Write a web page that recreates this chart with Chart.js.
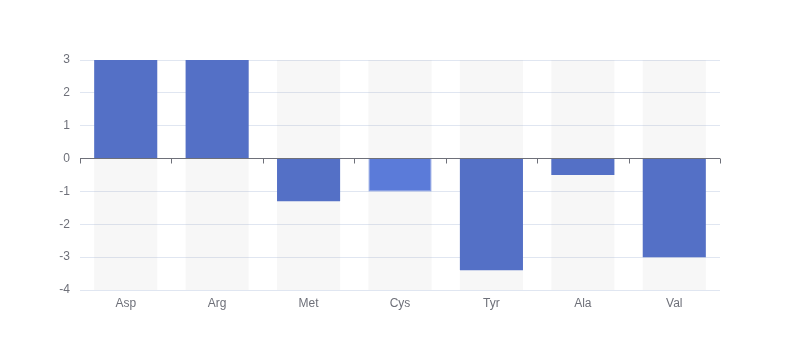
<!DOCTYPE html>
<html>
<head>
<meta charset="utf-8">
<script src="https://cdn.jsdelivr.net/npm/chart.js@4"></script>
<style>
  html, body { margin: 0; padding: 0; background: #fff; }
  #wrap { width: 800px; height: 360px; }
</style>
</head>
<body>
<div id="wrap"><canvas id="c" width="800" height="360"></canvas></div>
<script>
// data
const categories = ['Asp', 'Arg', 'Met', 'Cys', 'Tyr', 'Ala', 'Val'];
const values = [3, 3, -1.3, -1, -3.4, -0.5, -3];
const yMin = -4;
const yMax = 3;
const yStep = 1;
const highlightIndex = 3; // Cys is shown in hover state

const axisGray = '#6e7079';
const gridColor = '#e0e6f1';

// zero line with ticks between categories
const zeroAxis = {
  id: 'zeroAxis',
  afterDatasetsDraw(chart) {
    const { ctx, chartArea, scales } = chart;
    const x = scales.x, y = scales.y;
    const y0 = Math.round(y.getPixelForValue(0)) - 0.5;
    ctx.save();
    ctx.strokeStyle = axisGray;
    ctx.lineWidth = 1;
    ctx.beginPath();
    ctx.moveTo(chartArea.left, y0);
    ctx.lineTo(chartArea.right, y0);
    const edges = [chartArea.left];
    for (let i = 0; i < categories.length - 1; i++) {
      edges.push((x.getPixelForValue(i) + x.getPixelForValue(i + 1)) / 2);
    }
    edges.push(chartArea.right);
    edges.forEach(px => {
      const xx = Math.round(px) + 0.5;
      ctx.moveTo(xx, y0);
      ctx.lineTo(xx, y0 + 5);
    });
    ctx.stroke();
    ctx.restore();
  }
};

new Chart(document.getElementById('c'), {
  type: 'bar',
  data: {
    labels: categories,
    datasets: [
      {
        data: values,
        backgroundColor: values.map((v, i) => i === highlightIndex ? '#5b7bd9' : '#5470c6'),
        borderColor: values.map((v, i) => i === highlightIndex ? '#7f98e3' : '#5470c6'),
        borderWidth: values.map((v, i) => i === highlightIndex ? 1 : 0),
        categoryPercentage: 0.69,
        barPercentage: 1,
        grouped: false,
        order: 1
      },
      {
        data: categories.map(() => [yMin, yMax]),
        backgroundColor: 'rgba(180,180,180,0.1)',
        categoryPercentage: 0.69,
        barPercentage: 1,
        grouped: false,
        order: 2
      }
    ]
  },
  options: {
    responsive: false,
    animation: false,
    layout: { padding: { top: 60, right: 80, bottom: 0, left: 0 } },
    plugins: { legend: { display: false }, tooltip: { enabled: false } },
    scales: {
      x: {
        grid: { display: false, drawTicks: false },
        border: { display: false },
        ticks: { color: axisGray, font: { size: 12 }, padding: 6 },
        afterFit: s => { s.height = 70; }
      },
      y: {
        min: yMin,
        max: yMax,
        ticks: { stepSize: yStep, color: axisGray, font: { size: 12 }, padding: 10 },
        grid: { color: gridColor, drawTicks: false },
        border: { display: false },
        afterFit: s => { s.width = 80; }
      }
    }
  },
  plugins: [zeroAxis]
});
</script>
</body>
</html>
